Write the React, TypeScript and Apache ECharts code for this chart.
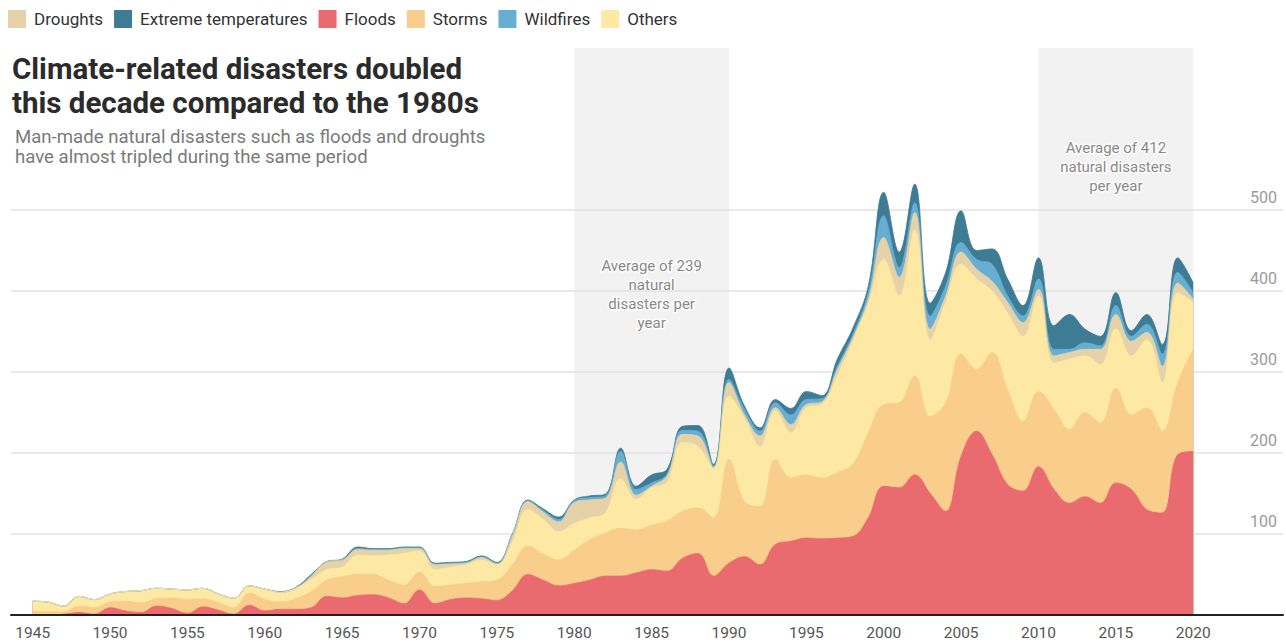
import React, { useEffect, useRef } from 'react';
import * as echarts from 'echarts';

const years: number[] = Array.from({ length: 76 }, (_, i) => 1945 + i);

const floods = [
  0, 0, 1, 3, 1, 9, 5, 3, 11, 8,
  2, 10, 6, 1, 12, 5, 7, 7, 9, 23,
  21, 24, 25, 21, 14, 31, 14, 19, 21, 20,
  18, 30, 50, 43, 36, 39, 43, 48, 48, 52,
  56, 54, 70, 76, 48, 64, 72, 62, 87, 91,
  95, 94, 95, 97, 120, 159, 157, 173, 150, 128,
  196, 227, 198, 161, 153, 183, 155, 138, 146, 138,
  163, 155, 130, 126, 198, 202,
];
const storms = [
  5, 4, 3, 8, 8, 7, 12, 12, 9, 13,
  17, 10, 9, 8, 15, 14, 9, 13, 20, 20,
  26, 26, 25, 22, 23, 22, 21, 18, 18, 21,
  25, 32, 35, 32, 32, 41, 50, 53, 59, 53,
  55, 62, 58, 56, 72, 128, 68, 72, 105, 78,
  78, 75, 81, 89, 105, 101, 105, 122, 95, 134,
  126, 76, 126, 117, 86, 93, 99, 91, 104, 99,
  117, 92, 126, 101, 89, 126,
];
const others = [
  12, 12, 7, 12, 10, 10, 12, 15, 13, 11,
  12, 13, 11, 12, 9, 13, 12, 13, 15, 13,
  12, 24, 23, 31, 39, 26, 21, 22, 23, 27,
  19, 28, 45, 43, 35, 33, 27, 25, 61, 38,
  46, 48, 85, 76, 61, 78, 103, 74, 60, 56,
  83, 91, 119, 152, 159, 179, 132, 181, 95, 124,
  111, 112, 76, 95, 105, 118, 57, 87, 70, 72,
  73, 73, 84, 60, 111, 58,
];
const droughts = [
  0, 0, 0, 0, 0, 0, 0, 0, 0, 0,
  0, 0, 0, 0, 0, 0, 0, 0, 4, 10,
  9, 7, 7, 6, 6, 3, 6, 4, 2, 3,
  1, 8, 10, 9, 12, 26, 22, 18, 21, 5,
  2, 8, 10, 13, 1, 17, 4, 13, 4, 10,
  4, 3, 8, 4, 6, 27, 23, 21, 13, 8,
  15, 12, 12, 13, 17, 8, 9, 8, 8, 19,
  18, 18, 9, 20, 12, 4,
];
const wildfires = [
  0, 0, 0, 0, 0, 0, 0, 0, 0, 0,
  0, 0, 0, 0, 0, 0, 0, 0, 0, 0,
  0, 1, 1, 1, 1, 1, 1, 1, 1, 1,
  1, 1, 1, 2, 3, 2, 3, 3, 13, 7,
  4, 2, 5, 6, 2, 4, 7, 6, 6, 12,
  6, 4, 4, 4, 8, 27, 12, 12, 16, 12,
  12, 12, 21, 8, 8, 13, 8, 4, 8, 4,
  11, 6, 10, 15, 13, 8,
];
const extremeTemps = [
  0, 0, 0, 0, 0, 0, 0, 0, 0, 0,
  0, 0, 0, 0, 0, 0, 1, 1, 2, 0,
  1, 2, 1, 1, 1, 1, 1, 1, 1, 1,
  1, 1, 1, 2, 3, 1, 2, 2, 4, 4,
  10, 6, 5, 7, 2, 14, 4, 4, 4, 8,
  10, 4, 9, 8, 8, 29, 19, 23, 16, 17,
  39, 11, 19, 21, 13, 26, 29, 43, 17, 12,
  16, 7, 12, 12, 18, 12,
];

const xTickLabels = [1945, 1950, 1955, 1960, 1965, 1970, 1975, 1980, 1985, 1990, 1995, 2000, 2005, 2010, 2015, 2020];
const yTickLabels = [100, 200, 300, 400, 500];
const legendOrder = ['Droughts', 'Extreme temperatures', 'Floods', 'Storms', 'Wildfires', 'Others'];
const highlightPeriods = [
  { from: 1980, to: 1990, text: 'Average of 239\nnatural\ndisasters per\nyear', distance: 208 },
  { from: 2010, to: 2020, text: 'Average of 412\nnatural disasters\nper year', distance: 90 },
];

// stacking order, bottom to top
const stackOrder: { name: string; values: number[]; color: string }[] = [
  { name: 'Floods', values: floods, color: '#e96b6f' },
  { name: 'Storms', values: storms, color: '#f9cd8b' },
  { name: 'Others', values: others, color: '#fde9a3' },
  { name: 'Droughts', values: droughts, color: '#e6d2a8' },
  { name: 'Wildfires', values: wildfires, color: '#67afd2' },
  { name: 'Extreme temperatures', values: extremeTemps, color: '#3e7c95' },
];

const FONT = 'Roboto, "Noto Sans", sans-serif';

export default function App() {
  const ref = useRef<HTMLDivElement>(null);

  useEffect(() => {
    if (!ref.current) return;
    const chart = echarts.init(ref.current, undefined, { renderer: 'svg' });

    // cumulative tops of each layer (the stack), drawn from the top layer down
    const running = years.map(() => 0);
    const cumulative = stackOrder.map((layer) => {
      const tops = layer.values.map((v, i) => (running[i] += v));
      return { ...layer, tops };
    });

    const seriesList: any[] = cumulative
      .slice()
      .reverse()
      .map((layer) => ({
        name: layer.name,
        type: 'line',
        smooth: 0.4,
        symbol: 'none',
        showSymbol: false,
        z: 3,
        lineStyle: { width: 0.8, color: layer.color },
        itemStyle: { color: layer.color },
        areaStyle: { color: layer.color, opacity: 1, origin: 'start' },
        emphasis: { disabled: true },
        data: years.map((y, i) => [y, layer.tops[i]]),
      }));

    seriesList[0].markArea = {
      silent: true,
      z: 1,
      itemStyle: { color: '#f2f2f2' },
      data: highlightPeriods.map((p) => [
        {
          xAxis: p.from,
          label: {
            show: true,
            position: 'insideTop',
            distance: p.distance,
            formatter: p.text,
            color: '#8a8a8a',
            fontSize: 15,
            fontFamily: FONT,
            lineHeight: 19,
            align: 'center',
            textBorderColor: 'rgba(255,255,255,0.85)',
            textBorderWidth: 3,
          },
        },
        { xAxis: p.to },
      ]),
    };
    seriesList[0].markLine = {
      silent: true,
      z: 2,
      symbol: ['none', 'none'],
      label: { show: false },
      lineStyle: { color: '#e2e2e2', width: 1.5, type: 'solid' },
      data: yTickLabels.map((v) => ({ yAxis: v })),
    };

    const option: any = {
      animation: false,
      textStyle: { fontFamily: FONT },
      legend: {
        left: 8,
        top: 10,
        padding: 0,
        icon: 'rect',
        itemWidth: 18,
        itemHeight: 18,
        itemGap: 11,
        selectedMode: false,
        data: legendOrder,
        textStyle: { fontSize: 17, color: '#333', fontFamily: FONT, padding: [0, 0, 0, 3] },
      },
      grid: { left: 11, right: 3, top: 48, bottom: 29, containLabel: false },
      xAxis: {
        type: 'value',
        min: 1943.6,
        max: 2025.8,
        z: 10,
        axisLine: { show: true, lineStyle: { color: '#222', width: 2 } },
        axisTick: { show: false },
        splitLine: { show: false },
        axisLabel: {
          customValues: xTickLabels,
          color: '#555',
          fontSize: 15.5,
          fontFamily: FONT,
          margin: 10,
          formatter: (v: number) => String(v),
        },
      },
      yAxis: {
        type: 'value',
        position: 'right',
        min: 0,
        max: 700,
        interval: 100,
        axisLine: { show: false },
        axisTick: { show: false },
        splitLine: { show: false },
        axisLabel: {
          inside: true,
          margin: 6,
          color: '#9a9a9a',
          fontSize: 16,
          fontFamily: FONT,
          verticalAlign: 'bottom',
          padding: [0, 0, 5, 0],
          formatter: (v: number) => (yTickLabels.includes(v) ? String(v) : ''),
        },
      },
      graphic: [
        {
          type: 'text',
          x: 12,
          y: 52,
          style: {
            text: 'Climate-related disasters doubled\nthis decade compared to the 1980s',
            fontSize: 29.5,
            fontWeight: 'bold',
            fontFamily: FONT,
            lineHeight: 34,
            fill: '#2b2b2b',
          },
        },
        {
          type: 'text',
          x: 15,
          y: 127,
          style: {
            text: 'Man-made natural disasters such as floods and droughts\nhave almost tripled during the same period',
            fontSize: 18.6,
            fontFamily: FONT,
            lineHeight: 20,
            fill: '#7a7a7a',
          },
        },
      ],
      series: seriesList,
    };

    chart.setOption(option);
    return () => chart.dispose();
  }, []);

  return (
    <div
      ref={ref}
      style={{ position: 'fixed', left: 0, top: 0, width: 1286, height: 644, background: '#fff' }}
    />
  );
}
